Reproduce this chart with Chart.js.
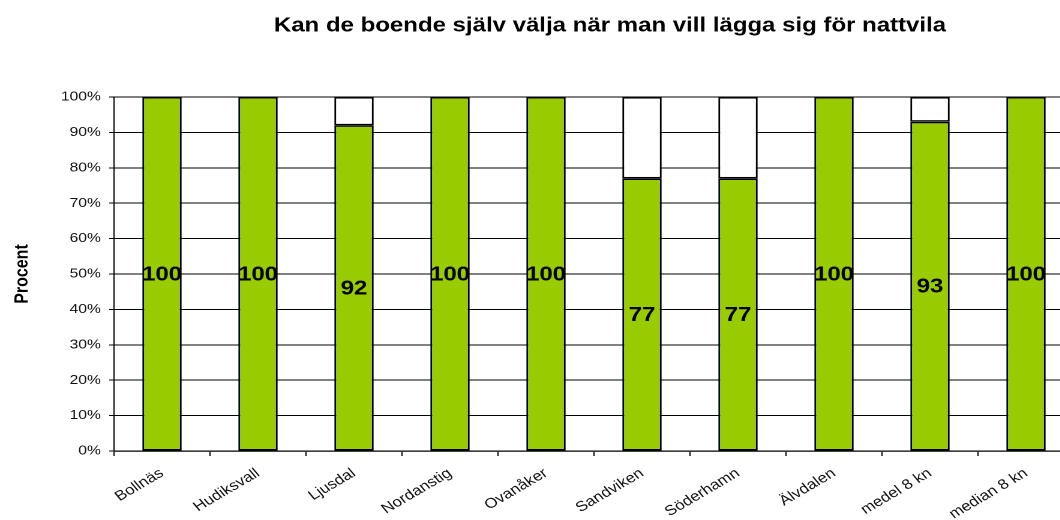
<!DOCTYPE html>
<html><head><meta charset="utf-8">
<script src="https://cdn.jsdelivr.net/npm/chart.js@4.4.1/dist/chart.umd.min.js"></script>
<style>
html,body{margin:0;padding:0;overflow:hidden;background:#fff;width:1060px;height:520px}
#wrap{position:absolute;left:0;top:0;width:900px;height:520px;transform:scale(1.2,1);transform-origin:0 0}
</style>
</head><body>
<div id="wrap"><canvas id="c" width="900" height="520" style="width:900px;height:520px"></canvas></div>
<script>
const titleText = 'Kan de boende själv välja när man vill lägga sig för nattvila';
const yTitle = 'Procent';
const categories = ['Bollnäs','Hudiksvall','Ljusdal','Nordanstig','Ovanåker','Sandviken','Söderhamn','Älvdalen','medel 8 kn','median 8 kn'];
const yesValues = [100,100,92,100,100,77,77,100,93,100];
const restValues = [null,null,8,null,null,23,23,null,7,null];
const yTicks = [0,10,20,30,40,50,60,70,80,90,100];

const FONT = "'Liberation Sans', Arial, sans-serif";
const SX = 1.2;

const overlay = {
  id:'overlay',
  afterDatasetsDraw(chart){
    const ctx = chart.ctx;
    const meta = chart.getDatasetMeta(0);
    ctx.save();
    ctx.font = 'bold 20px ' + FONT;
    ctx.fillStyle = '#000';
    ctx.textAlign = 'center';
    ctx.textBaseline = 'middle';
    meta.data.forEach((bar,i)=>{
      const p = bar.getProps(['x','y','base'],true);
      ctx.fillText(String(yesValues[i]), p.x, (p.y+p.base)/2 + 1);
    });
    ctx.restore();
  },
  afterDraw(chart){
    const ctx = chart.ctx;
    ctx.save();
    ctx.font = 'bold 20px ' + FONT;
    ctx.fillStyle = '#000';
    ctx.textAlign = 'center';
    ctx.textBaseline = 'middle';
    ctx.fillText(titleText, 610/SX, 26);
    ctx.restore();
  }
};

new Chart(document.getElementById('c'), {
  type:'bar',
  data:{
    labels: categories,
    datasets:[
      {data: yesValues, backgroundColor:'#99CC00', borderColor:'#000', borderWidth:1.6, borderSkipped:false, barPercentage:0.41, categoryPercentage:1},
      {data: restValues, backgroundColor:'#FFFFFF', borderColor:'#000', borderWidth:1.6, borderSkipped:false, barPercentage:0.41, categoryPercentage:1}
    ]
  },
  options:{
    responsive:false,
    animation:false,
    devicePixelRatio:2,
    layout:{padding:{top:97,left:0,right:900-1074/SX,bottom:0}},
    plugins:{legend:{display:false},title:{display:false},tooltip:{enabled:false}},
    scales:{
      x:{
        stacked:true,
        offset:true,
        grid:{display:true, drawOnChartArea:false, drawTicks:true, tickLength:5, offset:true, color:'#000'},
        border:{display:true,color:'#000',width:1.2},
        ticks:{font:{family:FONT,size:14},color:'#111',minRotation:35,maxRotation:35,padding:9},
        afterFit(s){ s.height = 69; }
      },
      y:{
        stacked:true,
        min:0,max:100,
        afterBuildTicks(s){ s.ticks = yTicks.map(v=>({value:v})); },
        ticks:{font:{family:FONT,size:13},color:'#111',padding:7,callback:v=>v+'%'},
        grid:{color:'#000',lineWidth:1,tickLength:4},
        border:{display:true,color:'#000',width:1},
        title:{display:true,text:yTitle,font:{family:FONT,size:16,weight:'bold'},color:'#000',padding:{top:9,bottom:2}},
        afterFit(s){ s.width = 114/SX; }
      }
    }
  },
  plugins:[overlay]
});
</script>
</body></html>
